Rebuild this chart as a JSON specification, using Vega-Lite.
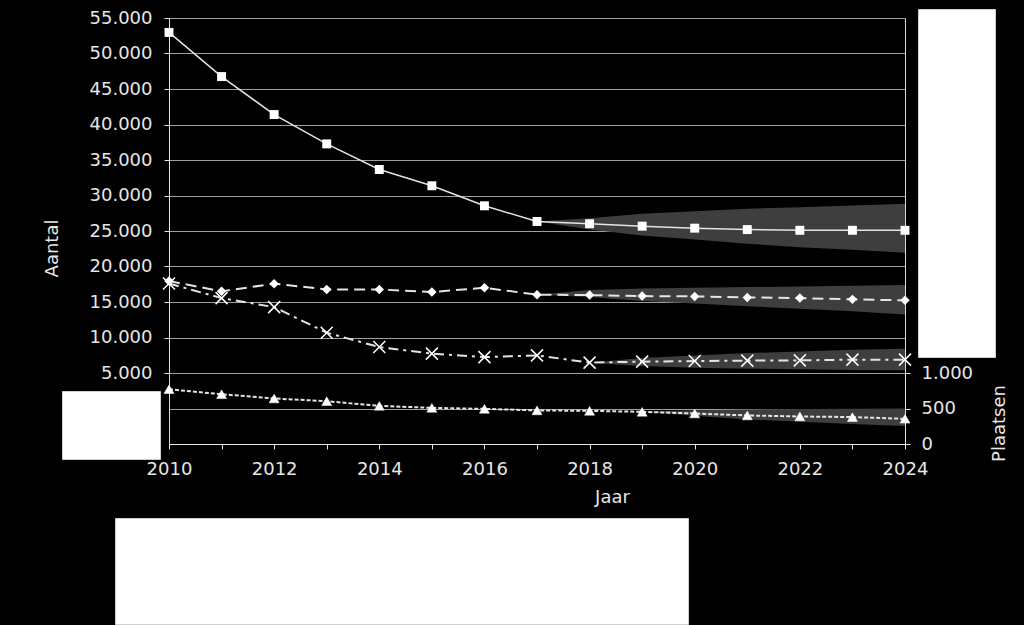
{
  "$schema": "https://vega.github.io/schema/vega-lite/v6.json",
  "background": "black",
  "padding": {"left": 42, "top": 8, "right": 15, "bottom": 2},
  "datasets": {
    "d": [
      {"year": 2010, "s": "A", "v": 52970},
      {"year": 2011, "s": "A", "v": 46750},
      {"year": 2012, "s": "A", "v": 41400},
      {"year": 2013, "s": "A", "v": 37270},
      {"year": 2014, "s": "A", "v": 33660},
      {"year": 2015, "s": "A", "v": 31370},
      {"year": 2016, "s": "A", "v": 28550},
      {"year": 2017, "s": "A", "v": 26340, "lo": 26340, "hi": 26340},
      {"year": 2018, "s": "A", "v": 26020, "lo": 25210, "hi": 26800},
      {"year": 2019, "s": "A", "v": 25680, "lo": 24370, "hi": 27420},
      {"year": 2020, "s": "A", "v": 25400, "lo": 23810, "hi": 27790},
      {"year": 2021, "s": "A", "v": 25200, "lo": 23200, "hi": 28130},
      {"year": 2022, "s": "A", "v": 25100, "lo": 22720, "hi": 28350},
      {"year": 2023, "s": "A", "v": 25100, "lo": 22360, "hi": 28590},
      {"year": 2024, "s": "A", "v": 25100, "lo": 21940, "hi": 28830},
      {"year": 2010, "s": "B", "v": 17950},
      {"year": 2011, "s": "B", "v": 16500},
      {"year": 2012, "s": "B", "v": 17580},
      {"year": 2013, "s": "B", "v": 16770},
      {"year": 2014, "s": "B", "v": 16770},
      {"year": 2015, "s": "B", "v": 16400},
      {"year": 2016, "s": "B", "v": 17010},
      {"year": 2017, "s": "B", "v": 16030, "lo": 16030, "hi": 16030},
      {"year": 2018, "s": "B", "v": 15970, "lo": 15700, "hi": 16700},
      {"year": 2019, "s": "B", "v": 15830, "lo": 15150, "hi": 16900},
      {"year": 2020, "s": "B", "v": 15790, "lo": 14780, "hi": 17000},
      {"year": 2021, "s": "B", "v": 15650, "lo": 14400, "hi": 17100},
      {"year": 2022, "s": "B", "v": 15550, "lo": 14060, "hi": 17200},
      {"year": 2023, "s": "B", "v": 15370, "lo": 13700, "hi": 17300},
      {"year": 2024, "s": "B", "v": 15230, "lo": 13250, "hi": 17380},
      {"year": 2010, "s": "C", "v": 17600},
      {"year": 2011, "s": "C", "v": 15550},
      {"year": 2012, "s": "C", "v": 14280},
      {"year": 2013, "s": "C", "v": 10680},
      {"year": 2014, "s": "C", "v": 8650},
      {"year": 2015, "s": "C", "v": 7730},
      {"year": 2016, "s": "C", "v": 7240},
      {"year": 2017, "s": "C", "v": 7480},
      {"year": 2018, "s": "C", "v": 6460, "lo": 6460, "hi": 6460},
      {"year": 2019, "s": "C", "v": 6600, "lo": 5980, "hi": 7100},
      {"year": 2020, "s": "C", "v": 6680, "lo": 5750, "hi": 7480},
      {"year": 2021, "s": "C", "v": 6740, "lo": 5610, "hi": 7800},
      {"year": 2022, "s": "C", "v": 6780, "lo": 5520, "hi": 8040},
      {"year": 2023, "s": "C", "v": 6880, "lo": 5440, "hi": 8270},
      {"year": 2024, "s": "C", "v": 6880, "lo": 5370, "hi": 8430},
      {"year": 2010, "s": "D", "v": 771},
      {"year": 2011, "s": "D", "v": 701},
      {"year": 2012, "s": "D", "v": 641},
      {"year": 2013, "s": "D", "v": 603},
      {"year": 2014, "s": "D", "v": 537},
      {"year": 2015, "s": "D", "v": 509},
      {"year": 2016, "s": "D", "v": 495},
      {"year": 2017, "s": "D", "v": 473},
      {"year": 2018, "s": "D", "v": 467},
      {"year": 2019, "s": "D", "v": 453, "lo": 453, "hi": 453},
      {"year": 2020, "s": "D", "v": 430, "lo": 397, "hi": 475},
      {"year": 2021, "s": "D", "v": 402, "lo": 346, "hi": 487},
      {"year": 2022, "s": "D", "v": 388, "lo": 313, "hi": 494},
      {"year": 2023, "s": "D", "v": 379, "lo": 283, "hi": 498},
      {"year": 2024, "s": "D", "v": 355, "lo": 252, "hi": 500}
    ]
  },
  "spacing": 0,
  "bounds": "flush",
  "resolve": {"scale": {"fill": "independent", "stroke": "independent"}},
  "vconcat": [
    {
      "width": 736,
      "height": 355,
      "data": {"name": "d"},
      "encoding": {
        "x": {"field": "year", "type": "quantitative", "scale": {"domain": [2010, 2024], "nice": false, "zero": false}, "axis": null},
        "y": {
          "field": "v", "type": "quantitative",
          "scale": {"domain": [5000, 55000], "nice": false, "zero": false},
          "axis": {
            "title": "Aantal", "values": [5000, 10000, 15000, 20000, 25000, 30000, 35000, 40000, 45000, 50000, 55000],
            "labelExpr": "replace(format(datum.value, ','), ',', '.')",
            "grid": true, "labelPadding": 12, "titlePadding": 28, "titleY": 230
          }
        }
      },
      "layer": [
        {
          "transform": [{"filter": "datum.s != 'D' && isValid(datum.lo)"}],
          "mark": {"type": "area", "fill": "#3e3e3e", "opacity": 1},
          "encoding": {
            "y": {"field": "lo", "type": "quantitative", "scale": {"domain": [5000, 55000], "nice": false, "zero": false}, "axis": {"title": "Aantal", "values": [5000, 10000, 15000, 20000, 25000, 30000, 35000, 40000, 45000, 50000, 55000], "labelExpr": "replace(format(datum.value, ','), ',', '.')", "grid": true, "labelPadding": 12, "titlePadding": 28, "titleY": 230}},
            "y2": {"field": "hi"},
            "detail": {"field": "s"}
          }
        },
        {
          "transform": [{"filter": "datum.s == 'A'"}],
          "mark": {"type": "line", "stroke": "#e4e4e4", "strokeWidth": 1.5}
        },
        {
          "transform": [{"filter": "datum.s == 'B'"}],
          "mark": {"type": "line", "stroke": "#e4e4e4", "strokeWidth": 2, "strokeDash": [11, 6]}
        },
        {
          "transform": [{"filter": "datum.s == 'C'"}],
          "mark": {"type": "line", "stroke": "#e4e4e4", "strokeWidth": 2, "strokeDash": [10, 5, 3, 5]}
        },
        {
          "transform": [{"filter": "datum.s == 'A'"}],
          "mark": {"type": "point", "shape": "square", "size": 80, "filled": true, "opacity": 1},
          "encoding": {
            "fill": {
              "field": "v", "type": "quantitative",
              "scale": {"range": ["#ffffff", "#ffffff"]},
              "legend": {
                "orient": "none", "legendX": 749, "legendY": -9, "direction": "vertical",
                "gradientLength": 340, "gradientThickness": 69, "padding": 4, "values": [],
                "fillColor": "#ffffff", "strokeColor": "#d0d0d0", "title": null, "gradientStrokeWidth": 0, "labelOpacity": 0
              }
            }
          }
        },
        {
          "transform": [{"filter": "datum.s == 'B'"}],
          "mark": {"type": "point", "shape": "diamond", "size": 90, "filled": true, "fill": "#ffffff", "opacity": 1}
        },
        {
          "transform": [{"filter": "datum.s == 'C'"}],
          "mark": {"type": "point", "shape": "M-1,-1L1,1M-1,1L1,-1", "size": 144, "filled": false, "stroke": "#ffffff", "strokeWidth": 1.5, "opacity": 1}
        }
      ]
    },
    {
      "width": 736,
      "height": 71,
      "data": {"name": "d"},
      "transform": [{"filter": "datum.s == 'D'"}],
      "encoding": {
        "x": {
          "field": "year", "type": "quantitative", "scale": {"domain": [2010, 2024], "nice": false, "zero": false},
          "axis": {
            "title": "Jaar", "values": [2010, 2011, 2012, 2013, 2014, 2015, 2016, 2017, 2018, 2019, 2020, 2021, 2022, 2023, 2024],
            "labelExpr": "datum.value % 2 == 0 ? format(datum.value, 'd') : ''",
            "labelFlush": false, "labelOverlap": false,
            "grid": false, "labelPadding": 11, "titlePadding": 10, "titleX": 443
          }
        },
        "y": {
          "field": "v", "type": "quantitative", "scale": {"domain": [0, 1000], "nice": false, "zero": false},
          "axis": {
            "orient": "right", "title": "Plaatsen", "values": [0, 500, 1000],
            "labelExpr": "replace(format(datum.value, ','), ',', '.')",
            "grid": true, "labelPadding": 11, "titlePadding": 18, "titleAngle": 270, "titleBaseline": "top", "titleY": 50
          }
        }
      },
      "layer": [
        {
          "transform": [{"filter": "isValid(datum.lo)"}],
          "mark": {"type": "area", "fill": "#3e3e3e", "opacity": 1},
          "encoding": {
            "y": {"field": "lo", "type": "quantitative", "scale": {"domain": [0, 1000], "nice": false, "zero": false}, "axis": {"orient": "right", "title": "Plaatsen", "values": [0, 500, 1000], "labelExpr": "replace(format(datum.value, ','), ',', '.')", "grid": true, "labelPadding": 11, "titlePadding": 18, "titleAngle": 270, "titleBaseline": "top", "titleY": 50}},
            "y2": {"field": "hi"}
          }
        },
        {
          "mark": {"type": "line", "stroke": "#e4e4e4", "strokeWidth": 2, "strokeDash": [4, 2]}
        },
        {
          "mark": {"type": "point", "shape": "triangle-up", "size": 100, "filled": true, "opacity": 1, "strokeWidth": 0.5},
          "encoding": {
            "fill": {
              "field": "v", "type": "quantitative",
              "scale": {"range": ["#ffffff", "#ffffff"]},
              "legend": {
                "orient": "none", "legendX": -54, "legendY": 145, "direction": "horizontal",
                "gradientLength": 565, "gradientThickness": 98, "padding": 4, "values": [],
                "fillColor": "#ffffff", "strokeColor": "#d0d0d0", "title": null, "gradientStrokeWidth": 0, "labelOpacity": 0
              }
            },
            "stroke": {
              "field": "year", "type": "quantitative",
              "scale": {"range": ["#ffffff", "#ffffff"]},
              "legend": {
                "orient": "none", "legendX": -107, "legendY": 18, "direction": "horizontal",
                "gradientLength": 90, "gradientThickness": 60, "padding": 4, "values": [],
                "fillColor": "#ffffff", "strokeColor": "#d0d0d0", "title": null, "gradientStrokeWidth": 0, "labelOpacity": 0
              }
            }
          }
        }
      ]
    }
  ],
  "config": {
    "font": "DejaVu Sans",
    "view": {"stroke": "#d9d9d9", "strokeWidth": 1},
    "axis": {
      "labelFont": "DejaVu Sans", "labelFontSize": 18, "labelColor": "#e6e6e6",
      "titleFont": "DejaVu Sans", "titleFontSize": 18, "titleFontWeight": "normal", "titleColor": "#e6e6e6",
      "domainColor": "#e6e6e6", "tickColor": "#e6e6e6", "tickSize": 5, "gridColor": "#a0a0a0", "gridWidth": 1
    }
  }
}
